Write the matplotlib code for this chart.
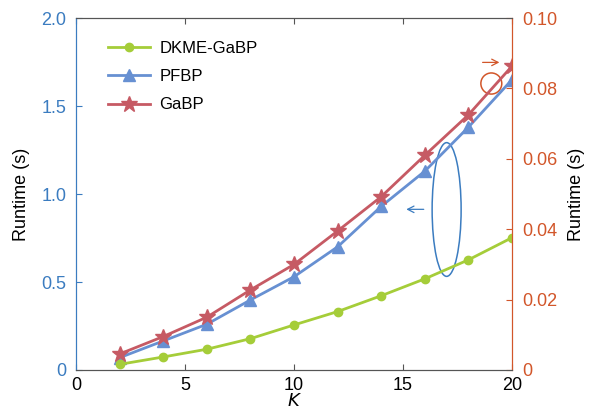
import numpy as np
import matplotlib.pyplot as plt
from matplotlib.patches import Ellipse

plt.rcParams['font.family'] = ['Liberation Sans', 'DejaVu Sans']
plt.rcParams['font.size'] = 13

K = [2, 4, 6, 8, 10, 12, 14, 16, 18, 20]
dkme = [0.0016, 0.0037, 0.0059, 0.0089, 0.0128, 0.0166, 0.0211, 0.0259, 0.0313, 0.0376]
pfbp = [0.07, 0.165, 0.26, 0.398, 0.53, 0.70, 0.93, 1.13, 1.38, 1.65]
gabp = [0.091, 0.19, 0.30, 0.455, 0.60, 0.79, 0.985, 1.22, 1.45, 1.727]

c_green = '#a5cd39'
c_blue = '#6790d2'
c_red = '#c65a64'
c_left = '#3b7cc0'
c_right = '#d2562a'

fig = plt.figure(figsize=(5.94, 4.16), dpi=100)
ax = fig.add_axes([0.128, 0.1106, 0.734, 0.846])
ax2 = ax.twinx()

l1, = ax2.plot(K, dkme, '-o', color=c_green, lw=2, ms=6, label='DKME-GaBP')
l2, = ax.plot(K, pfbp, '-^', color=c_blue, lw=2, ms=9, label='PFBP')
l3, = ax.plot(K, gabp, '-*', color=c_red, lw=2, ms=12, label='GaBP')

ax.set_xlim(0, 20)
ax.set_ylim(0, 2.0)
ax2.set_ylim(0, 0.10)
ax.set_xticks([0, 5, 10, 15, 20])
ax.set_xticklabels(['0', '5', '10', '15', '20'])
ax.set_yticks([0, 0.5, 1.0, 1.5, 2.0])
ax.set_yticklabels(['0', '0.5', '1.0', '1.5', '2.0'])
ax2.set_yticks([0, 0.02, 0.04, 0.06, 0.08, 0.10])
ax2.set_yticklabels(['0', '0.02', '0.04', '0.06', '0.08', '0.10'])

ax.tick_params(axis='x', direction='in', top=True, length=4, color='#555555', pad=5)
ax.tick_params(axis='y', direction='in', length=4, colors=c_left, pad=7)
ax2.tick_params(axis='y', direction='in', length=4, colors=c_right, pad=7)

ax.set_xlabel('$K$', labelpad=-1)
ax.set_ylabel('Runtime (s)', labelpad=8)
ax2.set_ylabel('Runtime (s)', labelpad=8)

for a in (ax, ax2):
    a.spines['top'].set_color('#555555')
    a.spines['bottom'].set_color('#555555')
    a.spines['left'].set_color(c_left)
    a.spines['right'].set_color(c_right)

# axis hints
arrow = dict(arrowstyle='->,head_length=0.35,head_width=0.18', lw=0.9,
             shrinkA=0, shrinkB=0)
ax.add_patch(Ellipse((17.0, 0.912), 1.33, 0.76, fill=False, ec=c_left, lw=1.1))
ax.annotate('', xy=(15.15, 0.913), xytext=(15.95, 0.913),
            arrowprops=dict(arrow, color=c_left))
ax.add_patch(Ellipse((19.05, 1.628), 0.96, 0.12, fill=False, ec=c_right, lw=1.1))
ax.annotate('', xy=(19.42, 1.748), xytext=(18.65, 1.748),
            arrowprops=dict(arrow, color=c_right))

ax.legend(handles=[l1, l2, l3], loc='upper left', frameon=False,
          bbox_to_anchor=(0.04, 0.978), handlelength=2.5, handletextpad=0.55,
          labelspacing=0.8, fontsize=12)

fig.savefig('out.png', dpi=100)
